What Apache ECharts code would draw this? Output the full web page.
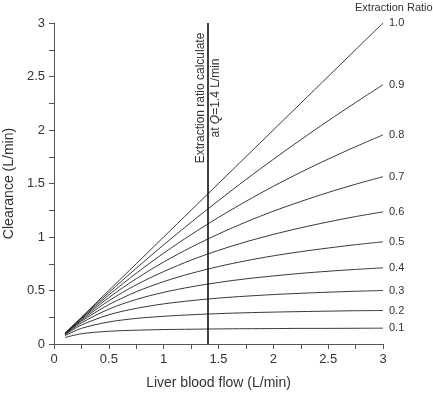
<!DOCTYPE html>
<html><head><meta charset="utf-8">
<script src="https://cdn.jsdelivr.net/npm/echarts@6/dist/echarts.min.js"></script>
<style>html,body{margin:0;padding:0;background:#fff}#c{width:433px;height:393px}</style>
</head><body><div id="c"></div>
<script>
var flows = [0.1, 0.25, 0.5, 0.75, 1.0, 1.25, 1.5, 1.75, 2.0, 2.25, 2.5, 2.75, 3.0];
var ratioNames = ['1.0','0.9','0.8','0.7','0.6','0.5','0.4','0.3','0.2','0.1'];
var cl10 = [0.100, 0.250, 0.500, 0.750, 1.000, 1.250, 1.500, 1.750, 2.000, 2.250, 2.500, 2.750, 3.000];
var cl09 = [0.099, 0.245, 0.481, 0.708, 0.927, 1.137, 1.340, 1.537, 1.726, 1.909, 2.086, 2.257, 2.423];
var cl08 = [0.098, 0.239, 0.459, 0.661, 0.849, 1.022, 1.183, 1.333, 1.474, 1.605, 1.728, 1.844, 1.954];
var cl07 = [0.097, 0.232, 0.434, 0.610, 0.766, 0.904, 1.028, 1.140, 1.241, 1.332, 1.416, 1.493, 1.564];
var cl06 = [0.096, 0.223, 0.404, 0.553, 0.677, 0.784, 0.875, 0.955, 1.024, 1.086, 1.141, 1.191, 1.235];
var cl05 = [0.093, 0.212, 0.368, 0.488, 0.583, 0.660, 0.724, 0.778, 0.824, 0.863, 0.897, 0.928, 0.955];
var cl04 = [0.090, 0.197, 0.326, 0.416, 0.483, 0.534, 0.575, 0.609, 0.636, 0.660, 0.680, 0.697, 0.712];
var cl03 = [0.086, 0.177, 0.273, 0.333, 0.375, 0.405, 0.429, 0.447, 0.462, 0.474, 0.484, 0.493, 0.500];
var cl02 = [0.078, 0.146, 0.206, 0.239, 0.259, 0.273, 0.284, 0.292, 0.298, 0.303, 0.307, 0.311, 0.313];
var cl01 = [0.061, 0.096, 0.119, 0.129, 0.135, 0.138, 0.141, 0.143, 0.144, 0.146, 0.146, 0.147, 0.148];
var allCl = [cl10, cl09, cl08, cl07, cl06, cl05, cl04, cl03, cl02, cl01];
var markQ = 1.4;

var font = '"Liberation Sans", Arial, sans-serif';
var series = allCl.map(function(vals, i){
  return {
    name: ratioNames[i], type: 'line', smooth: 0.3, symbol: 'none',
    data: flows.map(function(q, j){ return [q, vals[j]]; }),
    lineStyle: {color: '#222', width: 0.9},
    endLabel: {show: true, formatter: ratioNames[i], distance: 6, color: '#333', fontSize: 11, fontFamily: font},
    markLine: i === 0 ? {
      silent: true, symbol: 'none', label: {show: false},
      lineStyle: {color: '#111', width: 1.6, type: 'solid'},
      data: [{xAxis: markQ}]
    } : undefined
  };
});

var chart = echarts.init(document.getElementById('c'), null, {renderer: 'canvas'});
chart.setOption({
  animation: false,
  backgroundColor: '#fff',
  grid: {left: 54, right: 50, top: 23, bottom: 49, containLabel: false, outerBoundsMode: 'none'},
  xAxis: {
    type: 'value', min: 0, max: 3, interval: 0.5,
    name: 'Liver blood flow (L/min)', nameLocation: 'middle', nameGap: 32,
    nameTextStyle: {fontSize: 14, color: '#333', fontFamily: font},
    axisLine: {lineStyle: {color: '#555', width: 1}},
    axisTick: {length: 5, lineStyle: {color: '#555'}},
    minorTick: {show: true, splitNumber: 2, length: 5, lineStyle: {color: '#555'}},
    axisLabel: {fontSize: 13, color: '#333', fontFamily: font, margin: 9},
    splitLine: {show: false}
  },
  yAxis: {
    type: 'value', min: 0, max: 3, interval: 0.5,
    name: 'Clearance (L/min)', nameLocation: 'middle', nameGap: 36, nameRotate: 90,
    nameTextStyle: {fontSize: 14, color: '#333', fontFamily: font},
    axisLine: {show: true, lineStyle: {color: '#555', width: 1}},
    axisTick: {show: true, length: 5, lineStyle: {color: '#555'}},
    minorTick: {show: true, splitNumber: 2, length: 5, lineStyle: {color: '#555'}},
    axisLabel: {fontSize: 13, color: '#333', fontFamily: font, margin: 9},
    splitLine: {show: false}
  },
  graphic: [
    {type: 'text', left: 355, top: 2, style: {text: 'Extraction Ratio', fontSize: 11, fill: '#333', fontFamily: font}},
    {type: 'text', x: 201, y: 98, rotation: Math.PI/2,
     style: {text: 'Extraction ratio calculate', fontSize: 12, fill: '#333', fontFamily: font, align: 'center', verticalAlign: 'middle'}},
    {type: 'text', x: 216, y: 98, rotation: Math.PI/2,
     style: {rich: {n: {fontSize: 12, fill: '#333', fontFamily: font}, i: {fontSize: 12, fill: '#333', fontFamily: font, fontStyle: 'italic'}},
       text: '{n|at }{i|Q}{n|=1.4 L/min}', align: 'center', verticalAlign: 'middle'}}
  ],
  series: series
});
</script></body></html>
